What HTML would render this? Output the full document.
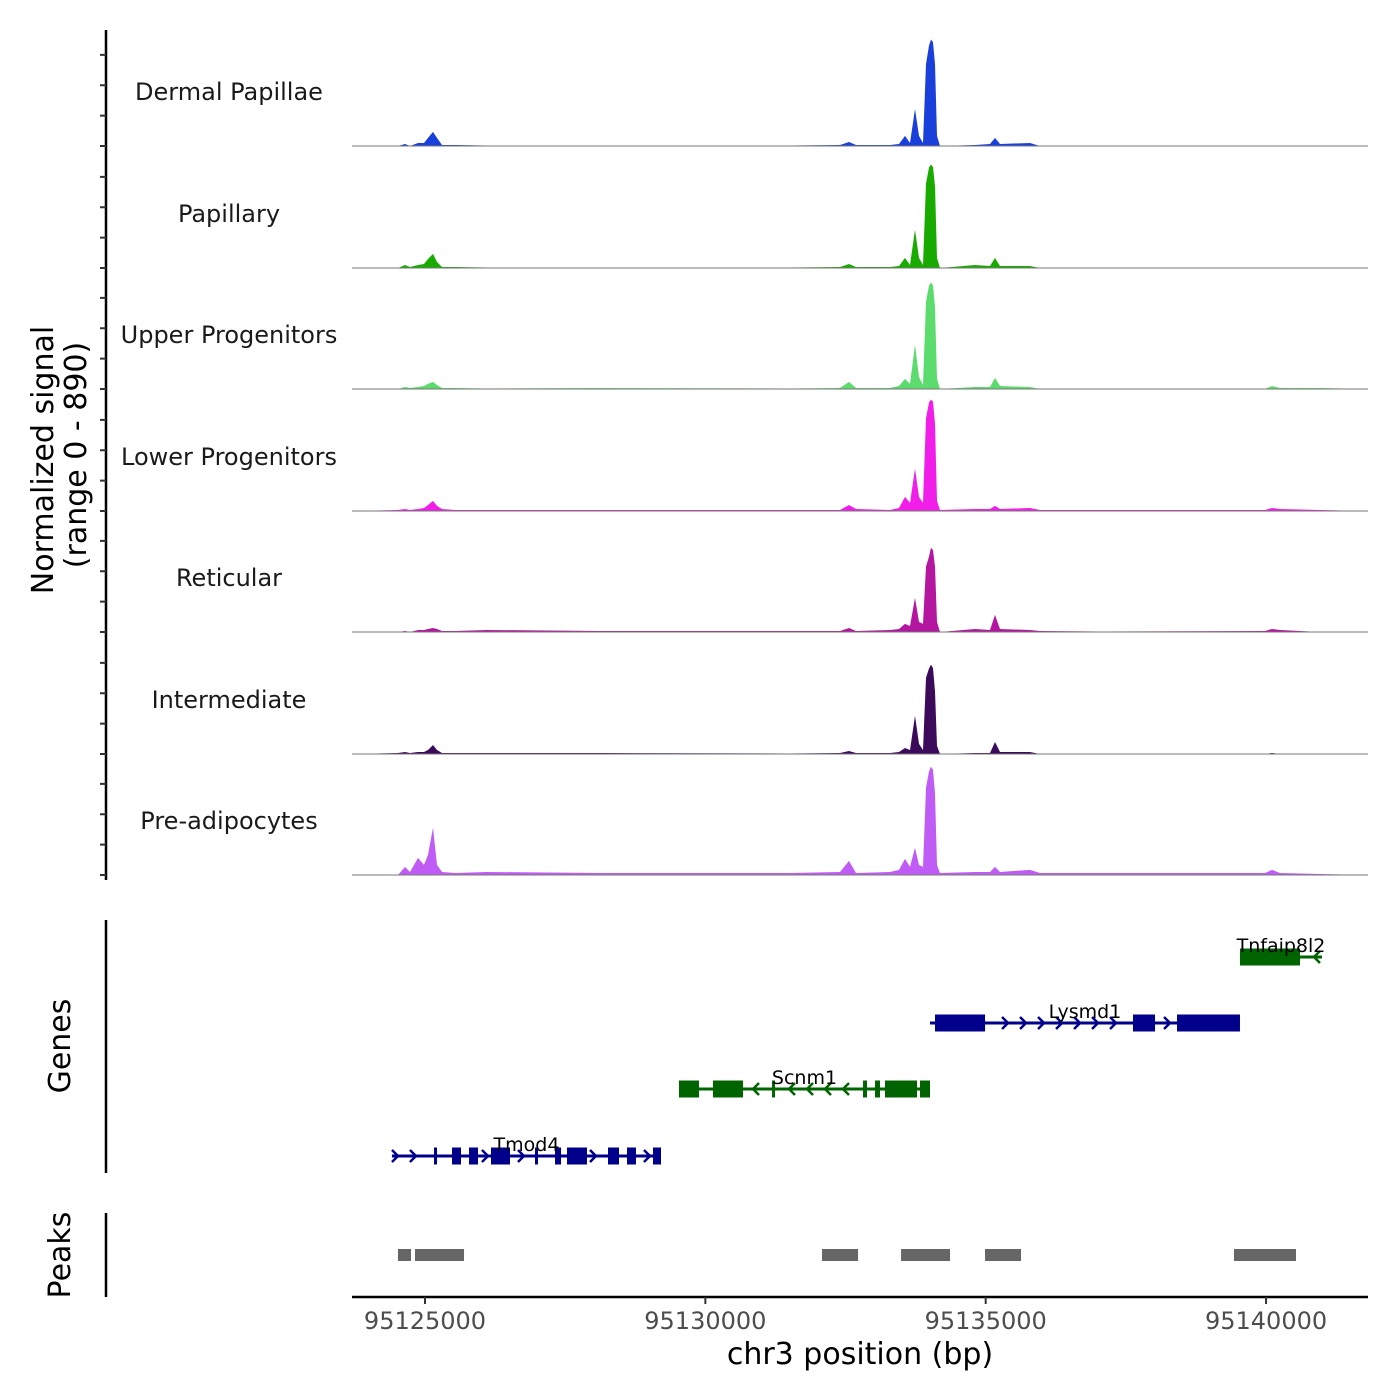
<!DOCTYPE html>
<html><head><meta charset="utf-8">
<style>
html,body{margin:0;padding:0;background:#fff;}
svg{display:block;font-family:"DejaVu Sans","Liberation Sans",sans-serif;}
</style></head>
<body>
<svg id="chart" width="1400" height="1400" viewBox="0 0 1400 1400" xmlns="http://www.w3.org/2000/svg">
<rect width="1400" height="1400" fill="#fff"/>
</svg>
<script>
// ---- data ----
const REGION_START = 95125000;
const trackNames = ["Dermal Papillae","Papillary","Upper Progenitors","Lower Progenitors","Reticular","Intermediate","Pre-adipocytes"];
const trackColors = ["#1a40dc","#1aab00","#5cdc6c","#f01ee8","#b5169f","#3c0a5a","#c05cf6"];
const positions = [-1302,-482,-357,-268,-125,-18,54,143,214,303,535,1106,3121,6510,7402,7562,7687,8293,8454,8561,8650,8739,8810,8882,8935,8989,9024,9060,9096,9131,9185,9809,10077,10166,10255,10790,10968,12038,14981,15106,15249,15963,16819];
const sigDP   = [0,0,15,0,22,22,59,103,59,7,7,4,4,4,7,29,7,7,15,74,22,272,74,22,600,736,780,760,600,74,0,7,15,59,15,22,0,4,0,0,0,0,0];
const sigPap  = [0,0,22,7,22,29,66,103,44,7,7,4,4,4,7,29,7,7,15,74,22,280,74,22,620,736,758,740,600,74,0,22,15,74,15,15,0,4,0,0,0,0,0];
const sigUp   = [0,0,15,7,15,22,37,52,29,7,7,4,7,4,7,52,7,7,22,74,37,324,88,29,640,758,780,760,600,74,0,15,15,81,22,15,0,4,0,22,7,7,0];
const sigLow  = [0,7,15,7,15,22,44,74,37,15,7,7,7,7,7,44,15,7,22,103,59,309,103,59,680,795,817,800,640,74,7,15,15,37,15,22,7,7,7,22,15,7,0];
const sigRet  = [0,0,7,0,15,15,22,29,22,7,7,15,7,7,7,29,7,15,22,59,44,250,74,59,480,552,618,600,480,74,0,22,15,125,22,15,7,4,7,22,15,0,0];
const sigInt  = [0,7,15,7,15,15,29,66,29,7,7,7,7,4,7,22,7,7,15,44,29,280,74,29,560,626,655,630,460,59,0,7,7,88,15,15,0,4,0,7,0,0,0];
const sigPre  = [0,0,59,22,125,74,147,346,74,22,15,22,15,15,22,103,15,22,37,118,59,199,74,59,640,758,795,770,600,74,15,22,22,59,22,37,15,15,15,37,15,7,0];
const signals = [sigDP,sigPap,sigUp,sigLow,sigRet,sigInt,sigPre];
const yMax = 890;
const xTicks = [95125000,95130000,95135000,95140000];
const geneNames = ["Tnfaip8l2","Lysmd1","Scnm1","Tmod4"];
const geneStrand = ["-","+","-","+"];
const geneColors = ["#006400","#00008b","#006400","#00008b"];
const geneStart = [14535,9007,4530,-589];
const geneEnd = [15998,14535,9007,4209];
const geneExons = [
  [[14535,15606]],
  [[9096,9988],[12627,13020],[13412,14535]],
  [[4530,4887],[5136,5672],[6189,6242],[7812,7883],[8026,8115],[8204,8775],[8828,9007]],
  [[161,214],[482,642],[785,945],[1177,1516],[1962,1998],[2319,2426],[2533,2889],[3264,3460],[3603,3763],[4066,4209]]
];
const peakStarts = [-482,-178,7081,8490,9988,14428];
const peakEnds = [-250,696,7723,9364,10630,15534];

// ---- scales ----
const PX_PER_BP = 0.05607;
function xs(bp){ return 425 + bp * PX_PER_BP; }
function xAbs(pos){ return 425 + (pos - REGION_START) * PX_PER_BP; }
const trackBase = [146,268,389,511,632,754,875];
const trackH = 121.5;
function ys(v,i){ return trackBase[i] - v / yMax * trackH; }

const NS="http://www.w3.org/2000/svg";
const svg=document.getElementById('chart');
function mk(tag,attrs,parent){const e=document.createElementNS(NS,tag);for(const k in attrs)e.setAttribute(k,attrs[k]);(parent||svg).appendChild(e);return e;}

// ---- signal tracks ----
signals.forEach((s,i)=>{
  const g=mk('g',{});
  
  
  let d='M'+xs(positions[0])+','+trackBase[i];
  positions.forEach((p,j)=>{ d+=' L'+xs(p).toFixed(1)+','+ys(s[j],i).toFixed(1); });
  d+=' L'+xs(positions[positions.length-1])+','+trackBase[i]+' Z';
  const a=mk('path',{d:d,fill:trackColors[i]},g);
  
  
  const bl=mk('line',{x1:352,x2:1368,y1:trackBase[i],y2:trackBase[i],stroke:'#777','stroke-width':1},g);
  
  
  const t=mk('text',{x:229,y:trackBase[i]-46,'text-anchor':'middle','font-size':24,fill:'#1a1a1a'},g);
  t.textContent=trackNames[i];
  
  
});

// left axis of signal panel
const la=mk('line',{x1:106,x2:106,y1:30,y2:880,stroke:'#000','stroke-width':2.5});


for(let i=0;i<7;i++){for(let k=0;k<4;k++){const y=trackBase[i]-k*trackH/4;
  const tk=mk('line',{x1:100,x2:106,y1:y,y2:y,stroke:'#333','stroke-width':2});
  
  }}
const yt=mk('text',{transform:'translate(53,460) rotate(-90)','text-anchor':'middle','font-size':30,fill:'#000'});
yt.textContent='Normalized signal';


const yt2=mk('text',{transform:'translate(86,455) rotate(-90)','text-anchor':'middle','font-size':30,fill:'#000'});
yt2.textContent='(range 0 - 890)';



// ---- genes ----
const gl=mk('line',{x1:106,x2:106,y1:920,y2:1173,stroke:'#000','stroke-width':2.5});


const gt=mk('text',{transform:'translate(70,1046) rotate(-90)','text-anchor':'middle','font-size':30,fill:'#000'});
gt.textContent='Genes';


const geneY=[957,1023,1089,1156];
geneNames.forEach((n,i)=>{
  const g=mk('g',{});
  
  
  const c=geneColors[i], y=geneY[i];
  const x1=xs(geneStart[i]), x2=xs(geneEnd[i]);
  mk('line',{x1:x1,x2:x2,y1:y,y2:y,stroke:c,'stroke-width':3},g);
  const ex=geneExons[i].map(e=>[xs(e[0]),xs(e[1])]);
  for(let x=x1+4;x<=x2-2;x+=18){
    if(ex.some(e=>x>e[0]-4&&x<e[1]+4))continue;
    const dir=geneStrand[i]=='+'?1:-1;
    mk('path',{d:`M${x-4*dir},${y-6} L${x+2*dir},${y} L${x-4*dir},${y+6}`,fill:'none',stroke:c,'stroke-width':2.5},g);
  }
  ex.forEach(e=>{
    const r=mk('rect',{x:e[0],y:y-8.5,width:Math.max(e[1]-e[0],3),height:17,fill:c},g);
    
    
  });
  const t=mk('text',{x:(x1+x2)/2,y:y-5,'text-anchor':'middle','font-size':19,fill:'#000'},g);
  if(i==0) t.setAttribute('x',1281);
  t.textContent=n;
  
  
});

// ---- peaks ----
const pl=mk('line',{x1:106,x2:106,y1:1213,y2:1297,stroke:'#000','stroke-width':2.5});


const pt=mk('text',{transform:'translate(70,1255) rotate(-90)','text-anchor':'middle','font-size':30,fill:'#000'});
pt.textContent='Peaks';


peakStarts.forEach((s,i)=>{
  const r=mk('rect',{x:xs(s),y:1249,width:xs(peakEnds[i])-xs(s),height:12,fill:'#666'});
  
  
});

// ---- x axis ----
const xa=mk('line',{x1:352,x2:1368,y1:1297,y2:1297,stroke:'#000','stroke-width':2.5});


xTicks.forEach(v=>{
  const x=xAbs(v);
  const tk=mk('line',{x1:x,x2:x,y1:1297,y2:1304,stroke:'#333','stroke-width':2});
  
  
  const t=mk('text',{x:x,y:1329,'text-anchor':'middle','font-size':24,fill:'#4d4d4d'});
  t.textContent=String(v);
  
  
});
const xt=mk('text',{x:860,y:1364,'text-anchor':'middle','font-size':30,fill:'#000'});
xt.textContent='chr3 position (bp)';


</script>
</body></html>
